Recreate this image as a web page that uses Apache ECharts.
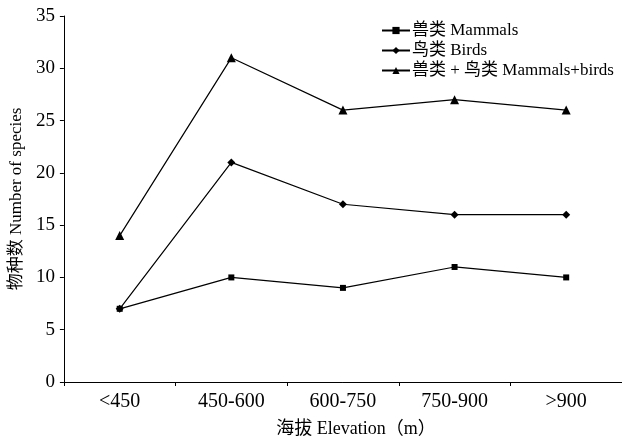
<!DOCTYPE html>
<html><head><meta charset="utf-8">
<script src="https://cdn.jsdelivr.net/npm/echarts@6/dist/echarts.min.js"></script>
<style>html,body{margin:0;padding:0;background:#fff}#c{width:622px;height:443px}</style>
</head><body><div id="c"></div>
<script>
const categories = ['<450', '450-600', '600-750', '750-900', '>900'];
const mammals = [7, 10, 9, 11, 10];
const birds = [7, 21, 17, 16, 16];
const total = [14, 31, 26, 27, 26];
const seriesNames = ['兽类 Mammals', '鸟类 Birds', '兽类 + 鸟类 Mammals+birds'];
const yTicks = [0, 5, 10, 15, 20, 25, 30, 35];

const FONT = '"Liberation Serif", "Noto Sans CJK SC", serif';
const chart = echarts.init(document.getElementById('c'));
function mk(name, data, symbol, size) {
  return {
    name, type: 'line', data, symbol, symbolSize: size,
    itemStyle: { color: '#000' },
    lineStyle: { color: '#000', width: 1.2 },
    animation: false
  };
}
chart.setOption({
  animation: false,
  backgroundColor: '#fff',
  textStyle: { fontFamily: FONT, color: '#000' },
  grid: { left: 62, right: -6, top: 16, bottom: 60, containLabel: false },
  legend: {
    orient: 'vertical', left: 376, top: 17, itemGap: 3,
    itemWidth: 28, itemHeight: 9,
    textStyle: { fontFamily: FONT, fontSize: 17, color: '#000', padding: [0, 0, 0, -3] },
    data: seriesNames
  },
  xAxis: {
    type: 'category', data: categories, boundaryGap: true,
    axisLine: { lineStyle: { color: '#000', width: 1 } },
    axisTick: { show: true, length: 4, alignWithLabel: false, lineStyle: { color: '#000' } },
    axisLabel: { fontFamily: FONT, fontSize: 20, color: '#000', margin: 10 },
    name: '海拔 Elevation（m）', nameLocation: 'middle', nameGap: 38,
    nameTextStyle: { fontFamily: FONT, fontSize: 18, color: '#000', padding: [0, 0, 0, 26] }
  },
  yAxis: {
    type: 'value', min: 0, max: 35, interval: 5,
    axisLine: { show: true, lineStyle: { color: '#000', width: 1 } },
    axisTick: { show: true, length: 4, lineStyle: { color: '#000' } },
    splitLine: { show: false },
    axisLabel: { fontFamily: FONT, fontSize: 19, color: '#000', margin: 9,
      formatter: v => yTicks.includes(v) ? String(v) : '' },
    name: '物种数 Number of species', nameLocation: 'middle', nameGap: 37, nameRotate: 90,
    nameTextStyle: { fontFamily: FONT, fontSize: 17, color: '#000' }
  },
  series: [
    mk(seriesNames[0], mammals, 'rect', 6),
    mk(seriesNames[1], birds, 'diamond', 8),
    mk(seriesNames[2], total, 'triangle', 9)
  ]
});
</script></body></html>
